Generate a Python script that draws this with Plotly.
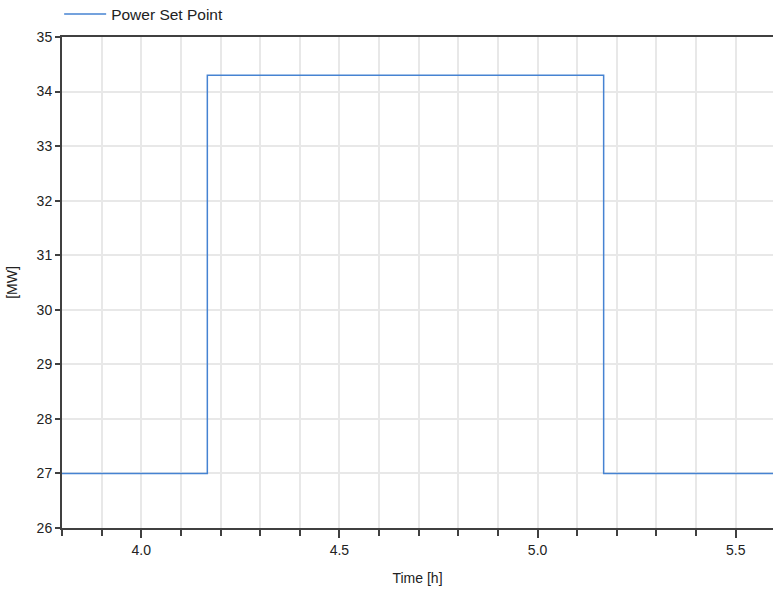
import plotly.graph_objects as go

time_h = [3.8, 4.1667, 4.1667, 5.1667, 5.1667, 5.6]
power_mw = [27.0, 27.0, 34.3, 34.3, 27.0, 27.0]
series_name = "Power Set Point"

fig = go.Figure()
fig.add_trace(go.Scatter(x=time_h, y=power_mw, mode="lines", name=series_name,
                         line=dict(color="#4683d2", width=1.5), showlegend=True))

axis_col = "#404040"
grid_col = "#e8e8e8"
fam = "Liberation Sans, Arial, sans-serif"
font = dict(family=fam, size=14, color="#222222")

fig.update_layout(
    width=774, height=591,
    margin=dict(l=62, r=1, t=37, b=63, autoexpand=False),
    plot_bgcolor="white", paper_bgcolor="white",
    font=font,
    showlegend=True,
    legend=dict(orientation="h", x=-0.004, y=1.046, xanchor="left", yanchor="middle",
                itemwidth=42,
                font=dict(family=fam, size=15.5, color="#222222"),
                bgcolor="rgba(0,0,0,0)"),
    xaxis=dict(range=[3.8, 5.594], dtick=0.5, tick0=4.0, tickformat=".1f",
               ticks="outside", ticklen=8, tickcolor=axis_col, tickwidth=1.5,
               showline=True, linecolor=axis_col, linewidth=2, mirror=True,
               showgrid=True, gridcolor=grid_col, gridwidth=1.5, zeroline=False,
               minor=dict(dtick=0.1, tick0=4.0, ticks="outside", ticklen=6,
                          tickcolor=axis_col, tickwidth=1.5, showgrid=True,
                          gridcolor=grid_col, gridwidth=1.5),
               title=dict(text="Time [h]", standoff=16, font=dict(size=14)),
               ),
    yaxis=dict(range=[26, 35], dtick=1, ticks="outside", ticklen=5,
               tickcolor=axis_col, tickwidth=1.5,
               showline=True, linecolor=axis_col, linewidth=2,
               showgrid=True, gridcolor=grid_col, gridwidth=1.5, zeroline=False,
               title=dict(text="[MW]", standoff=16, font=dict(size=14))),
)

fig.write_html("out.html")
